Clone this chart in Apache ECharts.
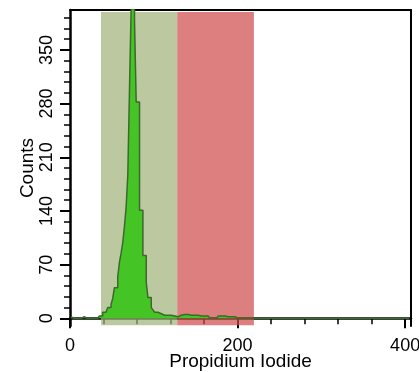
<!DOCTYPE html>
<html>
<head>
<meta charset="utf-8">
<script src="https://cdn.jsdelivr.net/npm/echarts@6/dist/echarts.min.js"></script>
<style>html,body{margin:0;padding:0;background:#fff;}#chart{width:419px;height:372px;}</style>
</head>
<body>
<div id="chart"></div>
<script>
// Histogram: bins of width 2 starting at x = 1
const binStart = 1;
const binWidth = 2;
const counts = [
  2,0,0,0,0,0,0,2,0,0,
  0,0,2,0,0,0,2,3,3,8,
  8,8,14,14,18,26,40,40,54,73,
  85,99,120,145,187,298,405,405,389,282,
  282,141,141,82,82,47,27,27,14,11,
  8,8,8,6,4,4,4,4,4,4,
  3,3,2,2,1,4,6,5,4,5,
  3,4,5,4,3,4,5,3,4,3,
  4,3,2,0,0,0,0,0,3,3,
  2,3,3,2,3,2,3,2,0,0,
  0,0,0,0,0,0,0,0,0,0,
  0,0,0,0,2,0,2,0,0,0,
  0,0,0,0,0,0,2,0,0,0,
  0,0,0,0,0,0,2,0,0,0,
  2,0,0,0,0,0,0,0,0,0,
  0,0,0,0,0,0,0,0,0,0,
  0,0,0,0,0,0,0,0,0,0,
  0,0,0,0,0,0,0,0,0,0,
  0,0,0,0,0,0,0,0,0,0,
  0,0,0,0,0,0,0,0,0,0,
  0,0
];
const xLabels = [0, 200, 400];
const xMinorTicks = [40, 80, 120, 160, 240, 280, 320, 360];
const yLabels = [0, 70, 140, 210, 280, 350];
const yMinorTicks = [14, 28, 42, 56, 84, 98, 112, 126, 154, 168, 182, 196, 224, 238, 252, 266, 294, 308, 322, 336, 364, 378, 392];
const greenGate = [37, 128];
const redGate = [128, 219.5];
const gateY = [-9, 399.5];

const histData = counts.map((c, i) => [binStart + i * binWidth, c]);
histData.push([binStart + counts.length * binWidth, 0]);

const FONT = 'Liberation Sans';
const chart = echarts.init(document.getElementById('chart'), null, {renderer: 'canvas'});
const xBase = {type: 'value', min: 0, max: 407, splitLine: {show: false}};
const yBase = {type: 'value', min: -10, max: 402, splitLine: {show: false}};
chart.setOption({
  animation: false,
  grid: {left: 70, right: 8, top: 10, bottom: 46, containLabel: false, outerBoundsMode: 'none'},
  xAxis: [
    Object.assign({}, xBase, {
      position: 'bottom',
      axisLine: {show: true, onZero: true, onZeroAxisIndex: 0, lineStyle: {color: '#000', width: 2.5}},
      axisTick: {show: true, customValues: xLabels, length: 10, lineStyle: {color: '#000', width: 2}},
      axisLabel: {show: true, customValues: xLabels, margin: 11, fontSize: 18, color: '#000', fontFamily: FONT},
      name: 'Propidium Iodide', nameLocation: 'middle', nameGap: 26, nameMoveOverlap: false,
      nameTextStyle: {fontSize: 19, color: '#000', fontFamily: FONT}
    }),
    Object.assign({}, xBase, {
      position: 'bottom',
      axisLine: {show: false, onZero: true, onZeroAxisIndex: 0},
      axisTick: {show: true, customValues: xMinorTicks, length: 6, lineStyle: {color: '#000', width: 1.5}},
      axisLabel: {show: false}
    }),
    Object.assign({}, xBase, {
      position: 'top',
      axisLine: {show: true, onZero: false, lineStyle: {color: '#000', width: 2}},
      axisTick: {show: false}, axisLabel: {show: false}
    })
  ],
  yAxis: [
    Object.assign({}, yBase, {
      position: 'left',
      axisLine: {show: true, onZero: false, lineStyle: {color: '#000', width: 2.5}},
      axisTick: {show: true, customValues: yLabels, length: 10, lineStyle: {color: '#000', width: 2}},
      axisLabel: {show: true, customValues: yLabels, rotate: 90, margin: 14, fontSize: 18, color: '#000', fontFamily: FONT},
      name: 'Counts', nameLocation: 'middle', nameGap: 33, nameMoveOverlap: false,
      nameTextStyle: {fontSize: 19, color: '#000', fontFamily: FONT}
    }),
    Object.assign({}, yBase, {
      position: 'left',
      axisLine: {show: false, onZero: false},
      axisTick: {show: true, customValues: yMinorTicks, length: 6, lineStyle: {color: '#000', width: 1.5}},
      axisLabel: {show: false}
    }),
    Object.assign({}, yBase, {
      position: 'right',
      axisLine: {show: true, onZero: false, lineStyle: {color: '#000', width: 2}},
      axisTick: {show: false}, axisLabel: {show: false}
    })
  ],
  series: [
    {
      type: 'line', xAxisIndex: 0, yAxisIndex: 0, data: [], z: 1, silent: true,
      markArea: {silent: true, itemStyle: {color: 'rgba(160,176,118,0.7)'},
        data: [[{xAxis: greenGate[0], yAxis: gateY[0]}, {xAxis: greenGate[1], yAxis: gateY[1]}]]}
    },
    {
      type: 'line', xAxisIndex: 0, yAxisIndex: 0, data: histData, step: 'end', z: 2,
      symbol: 'none', silent: true,
      lineStyle: {color: '#3b6a2a', width: 1.5},
      areaStyle: {color: '#45c425', opacity: 1}
    },
    {
      type: 'line', xAxisIndex: 0, yAxisIndex: 0, data: [], z: 3, silent: true,
      markArea: {silent: true, itemStyle: {color: 'rgba(206,72,72,0.7)'},
        data: [[{xAxis: redGate[0], yAxis: gateY[0]}, {xAxis: redGate[1], yAxis: gateY[1]}]]}
    }
  ]
});
</script>
</body>
</html>
